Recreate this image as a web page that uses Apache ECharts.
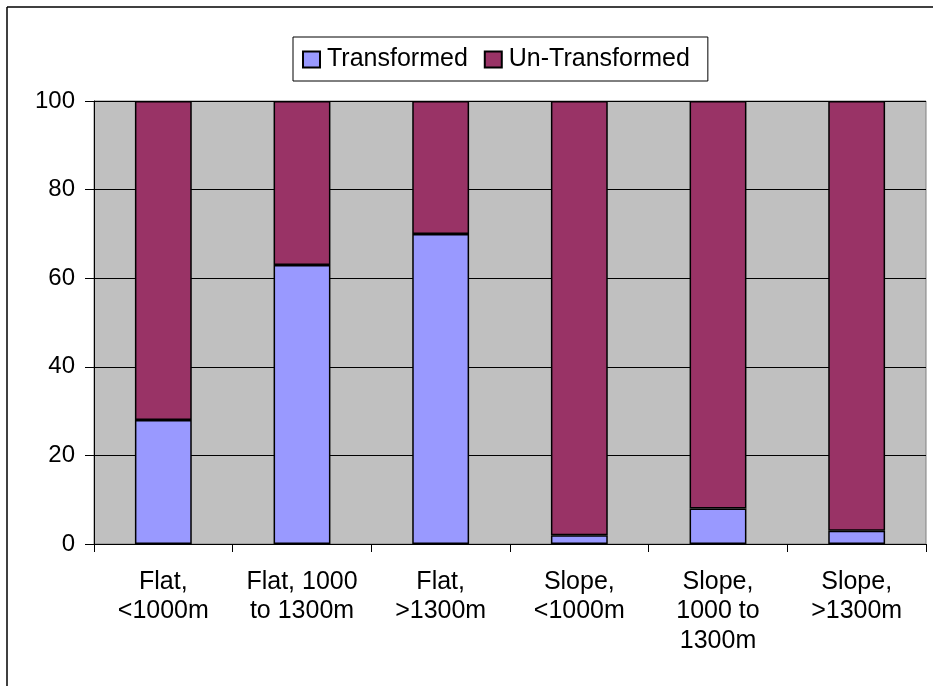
<!DOCTYPE html>
<html>
<head>
<meta charset="utf-8">
<script src="https://cdn.jsdelivr.net/npm/echarts@6/dist/echarts.min.js"></script>
<style>
html,body{margin:0;padding:0;background:#fff;}
#c{width:933px;height:686px;}
</style>
</head>
<body>
<div id="c"></div>
<script>
const categories = ['Flat,\n<1000m', 'Flat, 1000\nto 1300m', 'Flat,\n>1300m', 'Slope,\n<1000m', 'Slope,\n1000 to\n1300m', 'Slope,\n>1300m'];
const transformed = [28, 63, 70, 2, 8, 3];
const unTransformed = [72, 37, 30, 98, 92, 97];
const seriesNames = ['Transformed', 'Un-Transformed'];

const FONT = '"Liberation Sans", Arial, sans-serif';
const chart = echarts.init(document.getElementById('c'), null, {renderer: 'canvas'});
chart.setOption({
  animation: false,
  backgroundColor: '#fff',
  textStyle: {fontFamily: FONT},
  graphic: [
    {type: 'line', shape: {x1: 7, y1: 7, x2: 940, y2: 7}, style: {stroke: '#000', lineWidth: 1.5}, z: 100},
    {type: 'line', shape: {x1: 7, y1: 7, x2: 7, y2: 700}, style: {stroke: '#000', lineWidth: 1.5}, z: 100}
  ],
  legend: {
    left: 293, top: 37,
    padding: [10, 18, 9, 9],
    itemWidth: 17, itemHeight: 16, itemGap: 16,
    borderColor: '#000', borderWidth: 1,
    backgroundColor: '#fff',
    icon: 'rect',
    textStyle: {fontSize: 25, color: '#000', fontFamily: FONT, padding: [0, 0, 0, 2]},
    data: seriesNames
  },
  grid: {
    left: 94, right: 7, top: 101, bottom: 142,
    show: true, backgroundColor: '#C0C0C0', borderColor: '#808080', borderWidth: 1
  },
  xAxis: {
    type: 'category',
    data: categories,
    axisLine: {lineStyle: {color: '#000', width: 1}},
    axisTick: {show: true, length: 8, lineStyle: {color: '#000'}},
    axisLabel: {color: '#000', fontSize: 25, lineHeight: 29.5, margin: 23, interval: 0, fontFamily: FONT}
  },
  yAxis: {
    type: 'value', min: 0, max: 100, interval: 20,
    axisLine: {show: true, lineStyle: {color: '#000', width: 1}},
    axisTick: {show: true, length: 9, lineStyle: {color: '#000'}},
    axisLabel: {color: '#000', fontSize: 24, margin: 19, fontFamily: FONT},
    splitLine: {show: true, lineStyle: {color: '#000', width: 1}}
  },
  series: [
    {
      name: seriesNames[0], type: 'bar', stack: 't', data: transformed, barWidth: '41%',
      itemStyle: {color: '#9999FF', borderColor: '#000', borderWidth: 1.5}
    },
    {
      name: seriesNames[1], type: 'bar', stack: 't', data: unTransformed, barWidth: '41%',
      itemStyle: {color: '#993366', borderColor: '#000', borderWidth: 1.5}
    }
  ]
});
</script>
</body>
</html>
